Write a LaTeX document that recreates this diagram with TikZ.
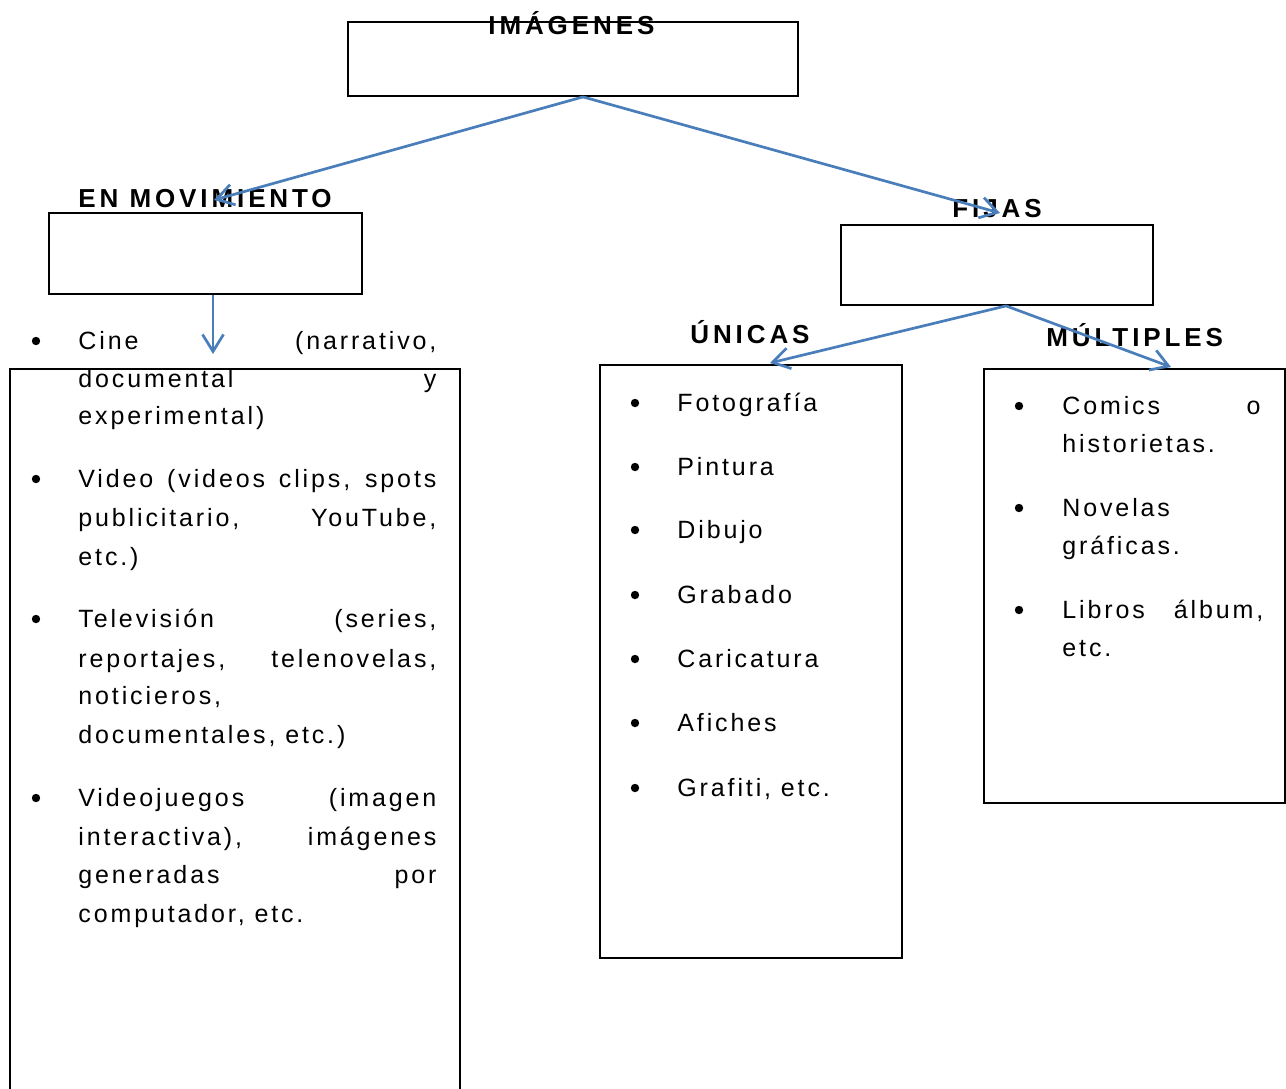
\documentclass[tikz,border=0pt]{standalone}
\usepackage{fontspec}
\setmainfont{Liberation Sans}
\newfontfamily\spfont[LetterSpace=11.5]{Liberation Sans}
\newfontfamily\lbfont[LetterSpace=15]{Liberation Sans}
\usetikzlibrary{arrows.meta}
\definecolor{arrowblue}{RGB}{74,126,187}
\newcommand{\jline}[2]{\makebox[#1][s]{#2}}
\begin{document}
\begin{tikzpicture}[x=0.5pt,y=-0.5pt,
  box/.style={draw=black,line width=0.9pt,inner sep=0,fill=none},
  txt/.style={anchor=base west,inner sep=0,font=\spfont\fontsize{12.5pt}{14pt}\selectfont},
  lab/.style={anchor=base west,inner sep=0,font=\lbfont\bfseries\fontsize{13pt}{15pt}\selectfont},
  bul/.style={circle,fill=black,inner sep=0,minimum size=4.2pt},
  conn/.style={draw=arrowblue,line width=1.35pt,-{Straight Barb[length=8.5pt,width=10.5pt]}}]
\useasboundingbox (0,0) rectangle (1286,1088);
\clip (0,0) rectangle (1286,1088);
% boxes
\node[box,minimum width=225pt,minimum height=37pt] (img) at (573,59) {};
\node[box,minimum width=156.5pt,minimum height=40.5pt] (mov) at (205.5,253.5) {};
\node[box,minimum width=156pt,minimum height=40pt] (fij) at (997,265) {};
\node[box,minimum width=151pt,minimum height=296.5pt] (uni) at (751,661.5) {};
\node[box,minimum width=150.5pt,minimum height=217pt] (mul) at (1134.5,586) {};
\node[box,minimum width=225pt,minimum height=415.5pt] (lst) at (235,784.5) {};
% labels
\node[lab] (limg) at (488,34) {IMÁGENES};
\node[lab] (lmov) at (78,207) {EN MOVIMIENTO};
\node[lab] (lfij) at (952,217) {FIJAS};
\node[lab] (luni) at (690,343) {ÚNICAS};
\node[lab] (lmul) at (1046,346) {MÚLTIPLES};
% left list
\node[bul] (lb1) at (36,341) {};
\node[bul] (lb2) at (36,479) {};
\node[bul] (lb3) at (36,619) {};
\node[bul] (lb4) at (36,798) {};
\node[txt] (l1) at (78,349) {\jline{179pt}{Cine (narrativo,}};
\node[txt] (l2) at (78,387) {\jline{179pt}{documental y}};
\node[txt] (l3) at (78,424) {experimental)};
\node[txt] (l4) at (78,487) {\jline{179pt}{Video (videos clips, spots}};
\node[txt] (l5) at (78,526) {\jline{179pt}{publicitario, YouTube,}};
\node[txt] (l6) at (78,565) {etc.)};
\node[txt] (l7) at (78,627) {\jline{179pt}{Televisión (series,}};
\node[txt] (l8) at (78,667) {\jline{179pt}{reportajes, telenovelas,}};
\node[txt] (l9) at (78,704) {noticieros,};
\node[txt] (l10) at (78,743) {documentales, etc.)};
\node[txt] (l11) at (78,806) {\jline{179pt}{Videojuegos (imagen}};
\node[txt] (l12) at (78,845) {\jline{179pt}{interactiva), imágenes}};
\node[txt] (l13) at (78,883) {\jline{179pt}{generadas por}};
\node[txt] (l14) at (78,922) {computador, etc.};
% middle list
\node[bul] (mb1) at (635,403) {};
\node[bul] (mb2) at (635,467) {};
\node[bul] (mb3) at (635,530) {};
\node[bul] (mb4) at (635,595) {};
\node[bul] (mb5) at (635,659) {};
\node[bul] (mb6) at (635,723) {};
\node[bul] (mb7) at (635,788) {};
\node[txt] (m1) at (677,411) {Fotografía};
\node[txt] (m2) at (677,475) {Pintura};
\node[txt] (m3) at (677,538) {Dibujo};
\node[txt] (m4) at (677,603) {Grabado};
\node[txt] (m5) at (677,667) {Caricatura};
\node[txt] (m6) at (677,731) {Afiches};
\node[txt] (m7) at (677,796) {Grafiti, etc.};
% right list
\node[bul] (rb1) at (1019,406) {};
\node[bul] (rb2) at (1019,508) {};
\node[bul] (rb3) at (1019,610) {};
\node[txt] (r1) at (1062,414) {\jline{99pt}{Comics o}};
\node[txt] (r2) at (1062,452) {historietas.};
\node[txt] (r3) at (1062,516) {Novelas};
\node[txt] (r4) at (1062,554) {gráficas.};
\node[txt] (r5) at (1062,618) {\jline{100.5pt}{Libros álbum,}};
\node[txt] (r6) at (1062,656) {etc.};
% arrow tips
\coordinate (tmov) at (214,200);
\coordinate (tfij) at (1000,213);
\coordinate (tlst) at (213,354);
\coordinate (tuni) at (770,363);
\coordinate (tmul) at (1171,367);
% connectors
\draw[conn] ([xshift=5pt]img.south) -- (tmov);
\draw[conn] ([xshift=5pt]img.south) -- (tfij);
\draw[conn] ([xshift=3.75pt]mov.south) -- (tlst);
\draw[conn] ([xshift=4.5pt]fij.south) -- (tuni);
\draw[conn] ([xshift=4.5pt]fij.south) -- (tmul);
\end{tikzpicture}
\end{document}
